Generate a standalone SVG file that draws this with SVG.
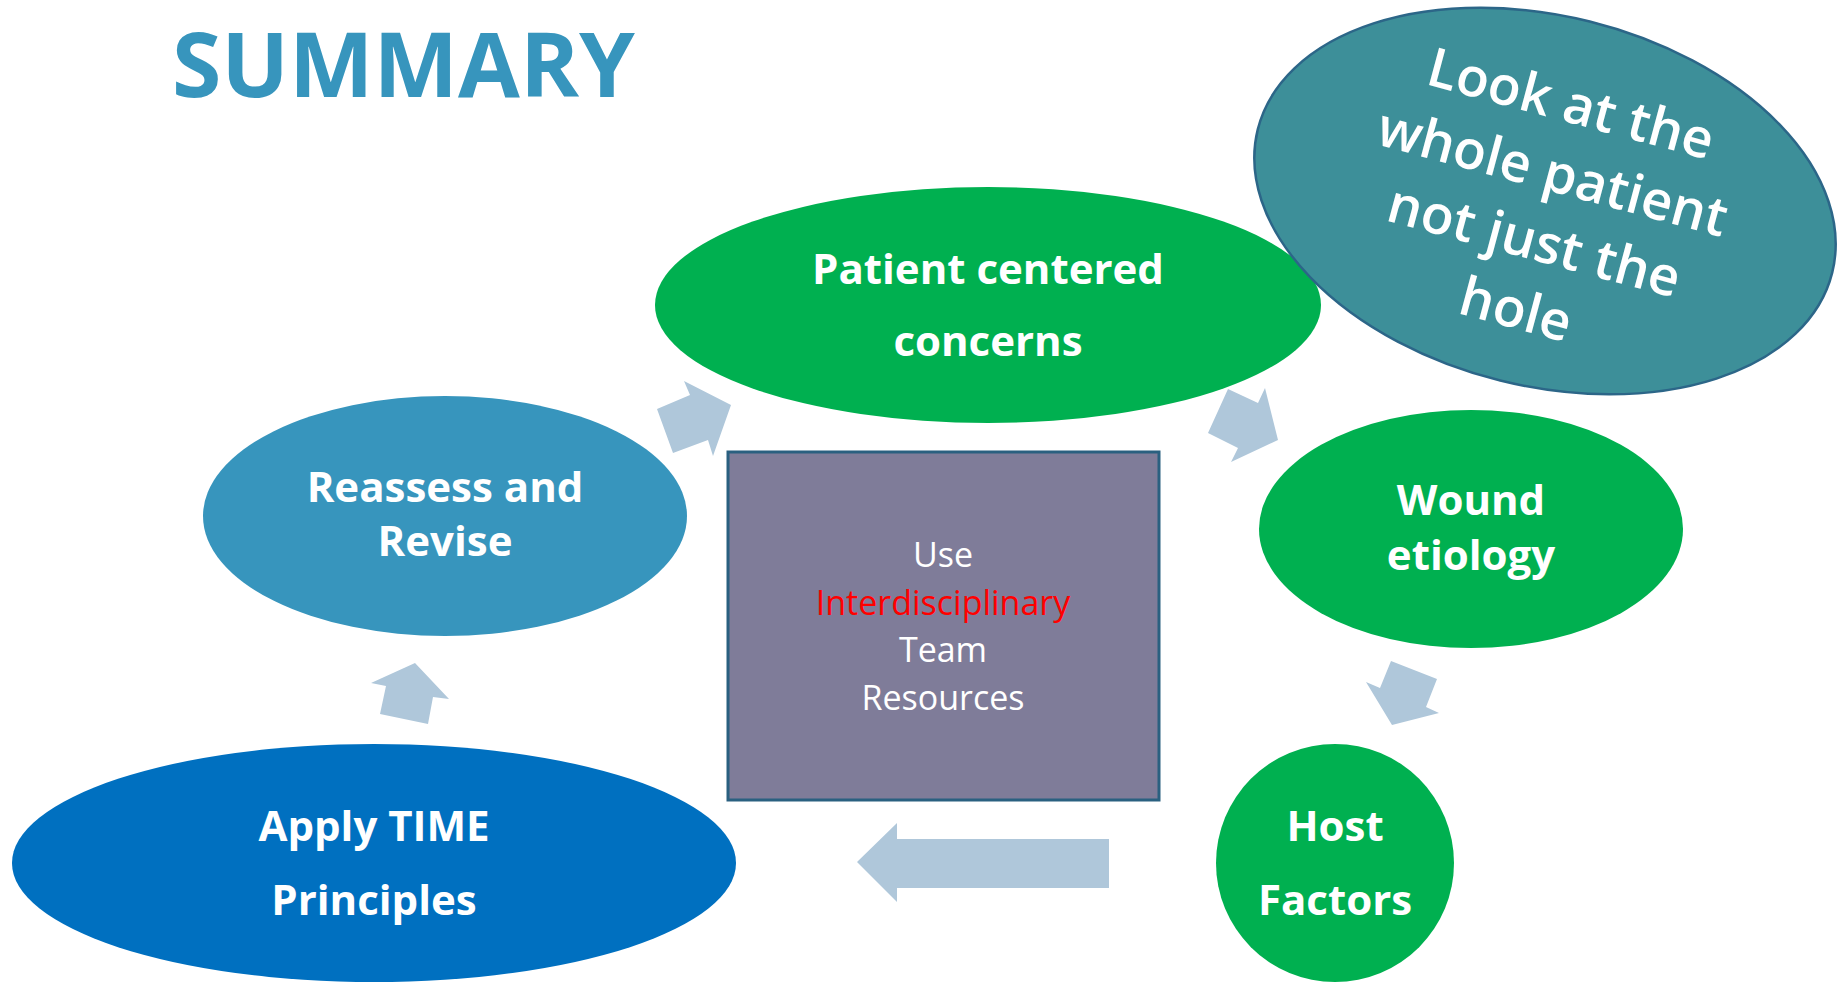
<svg xmlns="http://www.w3.org/2000/svg" width="1840" height="982" viewBox="0 0 1840 982">
  <style>
    .lbl { font-family: "Open Sans", "Liberation Sans", sans-serif; font-weight: 700; fill: #ffffff; text-anchor: middle; }
    .node-text { font-size: 42px; }
    .bubble-text { font-size: 54px; font-weight: 600; }
    .box-text { font-family: "Open Sans", "Liberation Sans", sans-serif; font-size: 34px; fill: #ffffff; text-anchor: middle; }
    .arrow { fill: #AFC7DA; }
    .green { fill: #00B050; }
  </style>
  <rect width="1840" height="982" fill="#ffffff"/>

  <!-- Title -->
  <text x="172" y="97" font-family="'Open Sans', 'Liberation Sans', sans-serif" font-weight="700" font-size="89" fill="#3795BD" textLength="463" lengthAdjust="spacingAndGlyphs">SUMMARY</text>

  <!-- Connectors -->
  <g id="connectors">
    <polygon class="arrow" points="415,663 449,699 433,697 428,724 380,714 386,686 371,683"/>
    <polygon class="arrow" points="657,409 690,395 684,381 731,405 713,456 708,440 673,453"/>
    <polygon class="arrow" points="1228,389 1258,403 1265,388 1278,440 1231,462 1238,448 1208,433"/>
    <polygon class="arrow" points="1391,661 1437,679 1426,707 1439,713 1392,725 1366,682 1380,688"/>
    <polygon class="arrow" points="857,862 897,823 897,839 1109,839 1109,888 897,888 897,902"/>
  </g>

  <!-- Patient centered concerns -->
  <g id="node-patient">
    <ellipse class="green" cx="988" cy="305" rx="333" ry="118"/>
    <text class="lbl node-text" x="988" y="284">Patient centered</text>
    <text class="lbl node-text" x="988" y="356">concerns</text>
  </g>

  <!-- Look at the whole patient -->
  <g id="node-whole-patient">
    <ellipse cx="1545" cy="201" rx="296" ry="185" transform="rotate(14 1545 201)" fill="#3D8F99" stroke="#2C6688" stroke-width="2.5"/>
    <g transform="translate(1545 201) rotate(15)">
      <text class="lbl bubble-text" x="0" y="-82">Look at the</text>
      <text class="lbl bubble-text" x="0" y="-11">whole patient</text>
      <text class="lbl bubble-text" x="0" y="60">not just the</text>
      <text class="lbl bubble-text" x="0" y="131">hole</text>
    </g>
  </g>

  <!-- Reassess and Revise -->
  <g id="node-reassess">
    <ellipse cx="445" cy="516" rx="242" ry="120" fill="#3795BD"/>
    <text class="lbl node-text" x="445" y="502">Reassess and</text>
    <text class="lbl node-text" x="445" y="556">Revise</text>
  </g>

  <!-- Wound etiology -->
  <g id="node-wound">
    <ellipse class="green" cx="1471" cy="529" rx="212" ry="119"/>
    <text class="lbl node-text" x="1471" y="515">Wound</text>
    <text class="lbl node-text" x="1471" y="570">etiology</text>
  </g>

  <!-- Interdisciplinary team -->
  <g id="node-team">
    <rect x="728" y="452" width="431" height="348" fill="#7F7C99" stroke="#2A6080" stroke-width="3"/>
    <text class="box-text" x="943" y="567">Use</text>
    <text class="box-text" x="943" y="615" style="fill:#FF0000">Interdisciplinary</text>
    <text class="box-text" x="943" y="662">Team</text>
    <text class="box-text" x="943" y="710">Resources</text>
  </g>

  <!-- Host Factors -->
  <g id="node-host">
    <circle class="green" cx="1335" cy="863" r="119"/>
    <text class="lbl node-text" x="1335" y="841">Host</text>
    <text class="lbl node-text" x="1335" y="915">Factors</text>
  </g>

  <!-- Apply TIME Principles -->
  <g id="node-apply">
    <ellipse cx="374" cy="863" rx="362" ry="119" fill="#0070C0"/>
    <text class="lbl node-text" x="374" y="841">Apply TIME</text>
    <text class="lbl node-text" x="374" y="915">Principles</text>
  </g>
</svg>
